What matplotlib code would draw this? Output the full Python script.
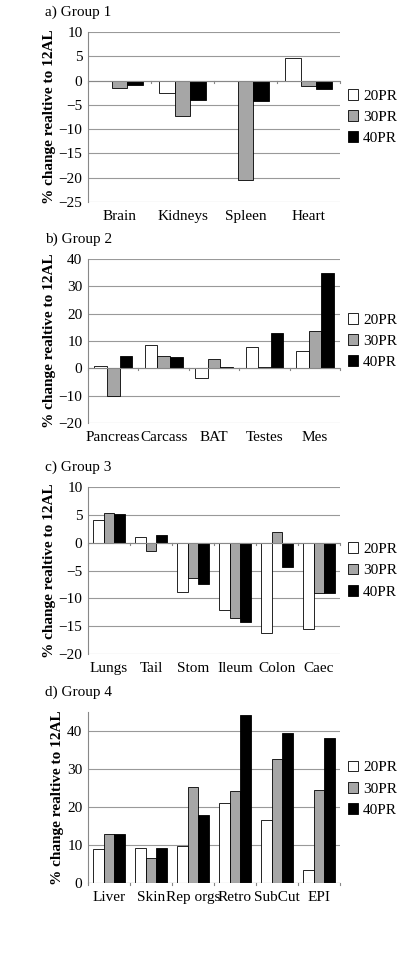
import matplotlib
matplotlib.use("Agg")
import matplotlib.pyplot as plt
import numpy as np

plt.rcParams['font.family'] = ['Liberation Serif', 'DejaVu Serif']

series = ['20PR', '30PR', '40PR']
colors = ['white', '#a6a6a6', 'black']

cat_a = ['Brain', 'Kidneys', 'Spleen', 'Heart']
a20 = [0.0, -2.5, 0.0, 4.6]
a30 = [-1.5, -7.2, -20.4, -1.2]
a40 = [-0.9, -4.0, -4.2, -1.7]

cat_b = ['Pancreas', 'Carcass', 'BAT', 'Testes', 'Mes']
b20 = [0.8, 8.6, -3.5, 7.7, 6.4]
b30 = [-10.3, 4.5, 3.5, 0.5, 13.5]
b40 = [4.5, 4.0, 0.6, 12.9, 34.8]

cat_c = ['Lungs', 'Tail', 'Stom', 'Ileum', 'Colon', 'Caec']
c20 = [4.0, 1.0, -8.9, -12.1, -16.3, -15.5]
c30 = [5.3, -1.5, -6.4, -13.6, 1.9, -9.0]
c40 = [5.2, 1.4, -7.4, -14.2, -4.4, -9.0]

cat_d = ['Liver', 'Skin', 'Rep orgs', 'Retro', 'SubCut', 'EPI']
d20 = [9.0, 9.2, 9.8, 21.0, 16.5, 3.4]
d30 = [12.9, 6.5, 25.3, 24.2, 32.7, 24.6]
d40 = [12.9, 9.2, 18.0, 44.2, 39.6, 38.1]

panels = [
    ('a) Group 1', cat_a, [a20, a30, a40], (-25, 10), np.arange(-25, 11, 5), 32, 202),
    ('b) Group 2', cat_b, [b20, b30, b40], (-20, 40), np.arange(-20, 41, 10), 259, 423),
    ('c) Group 3', cat_c, [c20, c30, c40], (-20, 10), np.arange(-20, 11, 5), 487, 654),
    ('d) Group 4', cat_d, [d20, d30, d40], (0, 45), np.arange(0, 41, 10), 712, 883),
]

W, H = 400, 955
fig = plt.figure(figsize=(W/100, H/100), dpi=100)
for title, cats, vals, ylim, ticks, top, bot in panels:
    ax = fig.add_axes([88/W, 1-bot/H, (340-88)/W, (bot-top)/H])
    x = np.arange(len(cats))
    w = 0.25
    for i, (v, c, s) in enumerate(zip(vals, colors, series)):
        ax.bar(x + (i-1)*w, v, w, color=c, edgecolor='black', linewidth=0.6, label=s, zorder=3)
    ax.set_ylim(*ylim)
    ax.set_xlim(-0.5, len(cats)-0.5)
    ax.set_yticks(ticks)
    ax.tick_params(axis='y', labelsize=11, length=0, pad=4)
    ax.yaxis.grid(True, color='#999999', linewidth=0.8, zorder=0)
    ax.set_xticks(x)
    ax.set_xticklabels(cats, fontsize=11)
    ax.tick_params(axis='x', length=0, pad=6)
    for sp in ['top', 'right', 'bottom']:
        ax.spines[sp].set_visible(False)
    ax.spines['left'].set_color('#888888')
    ax.axhline(0, color='#888888', linewidth=0.8, zorder=4)
    for k in range(len(cats)+1):
        ax.plot([k-0.5, k-0.5], [0, -(ylim[1]-ylim[0])*0.012], color='#888888', lw=0.8, clip_on=False, zorder=4)
    ax.set_ylabel('% change realtive to 12AL', fontsize=11, fontweight='bold', labelpad=2)
    ax.legend(loc='center left', bbox_to_anchor=(1.0, 0.5 if ylim[0] < 0 else 0.55), frameon=False,
              fontsize=11, handlelength=0.7, handleheight=0.7, handletextpad=0.3, labelspacing=0.5, borderaxespad=0.1)
    fig.text(45/W, 1-(top-20)/H, title, fontsize=11, va='center', ha='left')

fig.savefig('out.png', dpi=100)
